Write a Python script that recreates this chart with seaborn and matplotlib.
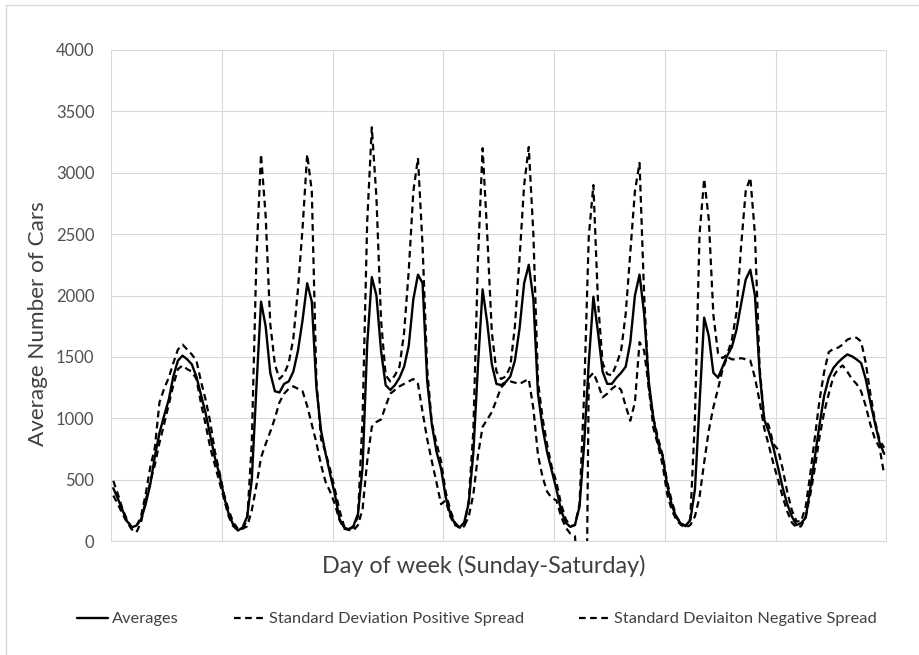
import numpy as np
import pandas as pd
import matplotlib
matplotlib.use("Agg")
import matplotlib.pyplot as plt
from matplotlib.lines import Line2D
import seaborn as sns

# Hourly traffic counts over one week, Sunday 00:00 through Saturday 23:00
days = ["Sunday", "Monday", "Tuesday", "Wednesday", "Thursday", "Friday", "Saturday"]
hours_per_day = 24

averages = [
    430, 345, 250, 160, 112, 125, 175, 300, 460, 690, 880, 1020, 1150, 1340, 1470, 1510, 1480, 1440, 1340, 1190, 1040, 860, 680, 540,
    360, 220, 130, 85, 110, 200, 500, 1250, 1950, 1750, 1370, 1220, 1210, 1280, 1300, 1380, 1550, 1800, 2100, 1950, 1250, 900, 710, 540,
    380, 180, 110, 95, 120, 220, 600, 1600, 2150, 2000, 1550, 1270, 1230, 1270, 1330, 1420, 1590, 1970, 2170, 2100, 1300, 950, 730, 590,
    360, 220, 140, 110, 150, 310, 720, 1430, 2050, 1780, 1440, 1280, 1270, 1295, 1340, 1470, 1730, 2100, 2250, 1970, 1200, 920, 720, 570,
    420, 250, 150, 115, 130, 280, 790, 1450, 1990, 1700, 1380, 1280, 1280, 1330, 1370, 1420, 1620, 2000, 2170, 1850, 1300, 1000, 800, 690,
    450, 290, 190, 140, 125, 170, 420, 1120, 1820, 1670, 1370, 1330, 1420, 1510, 1580, 1720, 1930, 2130, 2210, 2000, 1380, 990, 890, 760,
    600, 435, 300, 200, 130, 145, 190, 430, 690, 950, 1185, 1330, 1410, 1455, 1490, 1520, 1505, 1480, 1450, 1320, 1130, 960, 800, 710,
]

positive_spread = [
    490, 380, 260, 170, 110, 120, 200, 380, 600, 760, 1130, 1240, 1330, 1450, 1560, 1600, 1560, 1520, 1470, 1300, 1150, 970, 730, 560,
    380, 250, 150, 100, 100, 170, 800, 2300, 3150, 2650, 1770, 1440, 1320, 1360, 1450, 1650, 2050, 2550, 3150, 2850, 1300, 830, 720, 580,
    420, 250, 120, 100, 110, 200, 1000, 2600, 3370, 2800, 1800, 1350, 1300, 1350, 1420, 1700, 2200, 2850, 3120, 2400, 1400, 960, 800, 650,
    400, 250, 150, 110, 120, 330, 900, 2300, 3200, 2500, 1700, 1380, 1320, 1340, 1420, 1750, 2300, 2900, 3210, 2500, 1300, 1000, 780, 600,
    480, 300, 180, 120, 130, 300, 1200, 2480, 2900, 1950, 1450, 1360, 1350, 1440, 1550, 1850, 2350, 2850, 3080, 2000, 1250, 1000, 840, 700,
    480, 320, 200, 140, 120, 180, 1000, 2500, 2950, 2620, 1840, 1530, 1490, 1520, 1640, 1860, 2400, 2850, 2960, 2500, 1420, 1000, 940, 790,
    745, 590, 400, 250, 160, 160, 280, 550, 850, 1150, 1380, 1540, 1565, 1575, 1600, 1640, 1656, 1656, 1625, 1453, 1200, 980, 820, 760,
]

negative_spread = [
    370, 300, 220, 150, 95, 70, 150, 330, 480, 620, 800, 950, 1110, 1270, 1400, 1430, 1400, 1380, 1320, 1120, 950, 760, 620, 480,
    340, 200, 120, 90, 100, 120, 250, 450, 680, 790, 890, 1000, 1130, 1200, 1240, 1260, 1240, 1220, 1100, 950, 800, 620, 480, 400,
    300, 170, 100, 90, 85, 130, 260, 650, 930, 970, 990, 1100, 1200, 1230, 1260, 1280, 1300, 1320, 1280, 1050, 830, 650, 480, 300,
    330, 200, 130, 110, 120, 200, 380, 700, 930, 990, 1050, 1150, 1250, 1290, 1300, 1290, 1280, 1300, 1320, 1080, 700, 520, 400, 350,
    330, 200, 110, 60, 40, -400, -2500, 1330, 1370, 1280, 1170, 1200, 1240, 1270, 1230, 1100, 980, 1130, 1620, 1550, 1250, 920, 780, 620,
    380, 250, 170, 130, 110, 130, 200, 360, 640, 900, 1090, 1240, 1400, 1500, 1480, 1480, 1490, 1480, 1470, 1330, 1140, 920, 780, 630,
    500, 360, 240, 150, 110, 120, 200, 380, 600, 850, 1050, 1200, 1340, 1400, 1430, 1380, 1320, 1280, 1220, 1100, 950, 830, 760, 540,
]

y_ticks = [0, 500, 1000, 1500, 2000, 2500, 3000, 3500, 4000]

n_hours = len(days) * hours_per_day
df = pd.DataFrame({
    "hour": np.arange(n_hours),
    "avg": averages,
    "pos": positive_spread,
    "neg": negative_spread,
})

sns.set_theme(style="white")
plt.rcParams["font.family"] = ["Lato", "DejaVu Sans"]
tick_color = "#505050"
title_color = "#404040"
grid_color = "#d9d9d9"

W, H = 919, 655
fig = plt.figure(figsize=(W / 100, H / 100), dpi=100)
fig.patch.set_facecolor("white")

left, right, top, bottom = 111, 886.5, 50, 541
ax = fig.add_axes([left / W, 1 - bottom / H, (right - left) / W, (bottom - top) / H])

dash = (0, (3, 2))
sns.lineplot(data=df, x="hour", y="avg", ax=ax, color="black", linewidth=1.7,
             label="Averages", errorbar=None)
sns.lineplot(data=df, x="hour", y="pos", ax=ax, color="black", linewidth=1.6,
             linestyle=dash, label="Standard Deviation Positive Spread", errorbar=None)
sns.lineplot(data=df, x="hour", y="neg", ax=ax, color="black", linewidth=1.6,
             linestyle=dash, label="Standard Deviaiton Negative Spread", errorbar=None)

ax.set_xlim(-0.5, n_hours - 0.5)
ax.set_ylim(0, 4000)
ax.set_yticks(y_ticks)
ax.set_yticklabels([str(v) for v in y_ticks])
ax.set_xticks(np.arange(len(days) + 1) * hours_per_day - 0.5)
ax.set_xticklabels([])
ax.tick_params(axis="both", length=0)
ax.tick_params(axis="y", pad=12, labelsize=12, labelcolor=tick_color)
ax.grid(True, color=grid_color, linewidth=0.8)
ax.set_axisbelow(True)
for side in ["left", "right", "top"]:
    ax.spines[side].set_visible(False)
ax.spines["bottom"].set_color(grid_color)
ax.spines["bottom"].set_linewidth(0.8)
ax.set_xlabel("")
ax.set_ylabel("")

fig.text(484 / W, 1 - 566 / H, "Day of week (Sunday-Saturday)", ha="center", va="center",
         fontsize=16.8, color=title_color)
fig.text(38 / W, 1 - 324 / H, "Average Number of Cars", ha="center", va="center",
         rotation=90, fontsize=16.2, color=title_color)

handles, labels = ax.get_legend_handles_labels()
ax.get_legend().remove()
fig.legend(handles, labels, loc="center", bbox_to_anchor=(477 / W, 1 - 619 / H), ncol=3,
           frameon=False, fontsize=11.8, labelcolor=title_color, handlelength=1.85,
           handletextpad=0.25, columnspacing=3.4)

# chart frame edges
fig.add_artist(Line2D([6 / W, 1], [1 - 5 / H, 1 - 5 / H], transform=fig.transFigure,
                      color=grid_color, linewidth=1))
fig.add_artist(Line2D([6 / W, 6 / W], [0, 1 - 5 / H], transform=fig.transFigure,
                      color=grid_color, linewidth=1))

fig.savefig("out.png", dpi=100, facecolor="white")
